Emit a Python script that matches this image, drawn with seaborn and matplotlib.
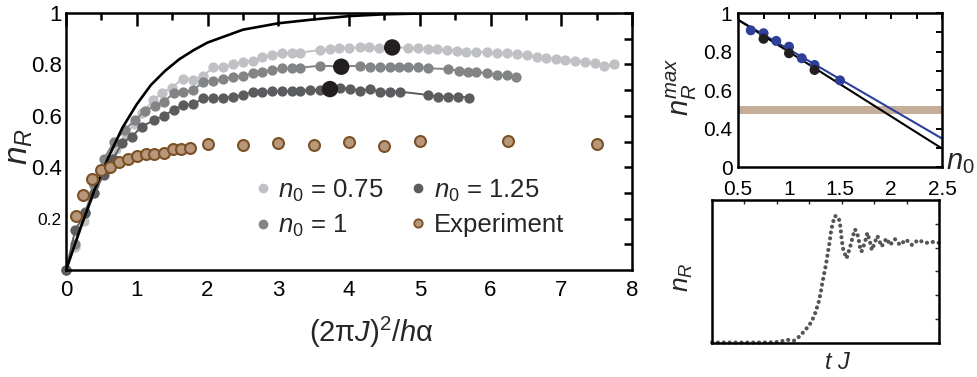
import matplotlib
matplotlib.use("Agg")
import matplotlib.pyplot as plt
from matplotlib.lines import Line2D
import numpy as np
import seaborn as sns

# ---------------- data ----------------
# mean-field curve (alpha -> 0 limit)
theory_x = [0, 0.1, 0.2, 0.3, 0.4, 0.5, 0.6, 0.8, 1.0, 1.2, 1.4, 1.6, 1.8, 2.0,
            2.5, 3.0, 3.5, 4.0, 4.5, 5.0, 5.5, 6.0, 7.0, 7.8]
theory_y = [0, 0.08, 0.16, 0.235, 0.31, 0.375, 0.44, 0.555, 0.645, 0.72, 0.775,
            0.82, 0.855, 0.885, 0.935, 0.96, 0.975, 0.988, 0.995, 0.998, 1.0,
            1.0, 1.0, 1.0]

# simulations, n0 = 0.75
light_x = [0, 0.12, 0.25, 0.4, 0.55, 0.7, 0.85, 0.97, 1.08, 1.23, 1.36, 1.5,
           1.65, 1.79, 1.94, 2.08, 2.22, 2.36, 2.5, 2.64, 2.77, 2.91, 3.05,
           3.19, 3.31, 3.59, 3.73, 3.86, 4.0, 4.15, 4.28, 4.43, 4.61, 4.84,
           4.97, 5.11, 5.25, 5.39, 5.52, 5.66, 5.80, 5.95, 6.09, 6.23, 6.37,
           6.51, 6.65, 6.78, 6.93, 7.05, 7.19, 7.34, 7.48, 7.60, 7.74]
light_y = [0, 0.09, 0.19, 0.3, 0.39, 0.47, 0.53, 0.57, 0.61, 0.66, 0.69, 0.71,
           0.745, 0.74, 0.755, 0.79, 0.79, 0.80, 0.81, 0.815, 0.83, 0.837,
           0.843, 0.846, 0.846, 0.856, 0.859, 0.863, 0.865, 0.866, 0.866,
           0.865, 0.866, 0.865, 0.863, 0.859, 0.859, 0.856, 0.853, 0.849,
           0.849, 0.847, 0.845, 0.843, 0.839, 0.835, 0.83, 0.826, 0.821,
           0.817, 0.815, 0.81, 0.804, 0.794, 0.80]

# simulations, n0 = 1
mid_x = [0, 0.13, 0.27, 0.4, 0.53, 0.68, 0.83, 0.975, 1.12, 1.26, 1.38, 1.52,
         1.66, 1.80, 1.94, 2.08, 2.22, 2.36, 2.50, 2.64, 2.77, 2.91, 3.05,
         3.19, 3.31, 3.59, 3.89, 4.16, 4.30, 4.44, 4.58, 4.71, 4.84, 4.98,
         5.12, 5.40, 5.55, 5.68, 5.80, 5.95, 6.09, 6.23, 6.36]
mid_y = [0, 0.1, 0.227, 0.33, 0.43, 0.5, 0.545, 0.584, 0.62, 0.64, 0.655,
         0.687, 0.694, 0.70, 0.733, 0.735, 0.742, 0.752, 0.755, 0.765, 0.772,
         0.778, 0.785, 0.785, 0.787, 0.795, 0.792, 0.795, 0.79, 0.789, 0.789,
         0.789, 0.791, 0.79, 0.785, 0.782, 0.776, 0.772, 0.772, 0.765, 0.759,
         0.757, 0.75]

# simulations, n0 = 1.25
dark_x = [0, 0.13, 0.27, 0.4, 0.53, 0.66, 0.79, 0.93, 1.07, 1.25, 1.38, 1.52,
          1.66, 1.80, 1.94, 2.08, 2.22, 2.36, 2.50, 2.64, 2.77, 2.91, 3.05,
          3.19, 3.31, 3.45, 3.59, 3.73, 3.87, 4.01, 4.16, 4.30, 4.44, 4.58,
          4.72, 5.12, 5.26, 5.40, 5.54, 5.69]
dark_y = [0, 0.156, 0.22, 0.3, 0.37, 0.43, 0.493, 0.519, 0.558, 0.584, 0.60,
          0.623, 0.642, 0.645, 0.668, 0.668, 0.668, 0.674, 0.681, 0.694,
          0.694, 0.695, 0.695, 0.697, 0.698, 0.70, 0.70, 0.704, 0.707, 0.706,
          0.698, 0.703, 0.694, 0.694, 0.694, 0.681, 0.675, 0.675, 0.675, 0.671]

# maxima of the simulated curves
peak_n0 = [0.75, 1.0, 1.25]
peak_x = [4.61, 3.89, 3.73]
peak_y = [0.866, 0.791, 0.704]

# experiment
exp_x = [0.14, 0.24, 0.37, 0.49, 0.62, 0.75, 0.88, 1.0, 1.13, 1.25, 1.38,
         1.51, 1.63, 1.75, 2.0, 2.5, 3.0, 3.5, 4.0, 4.5, 5.0, 6.25, 7.5]
exp_y = [0.21, 0.29, 0.353, 0.39, 0.40, 0.42, 0.432, 0.445, 0.45, 0.45, 0.454,
         0.47, 0.47, 0.476, 0.49, 0.486, 0.493, 0.486, 0.50, 0.484, 0.503,
         0.503, 0.49]

# inset: maximum vs n0
blue_n0 = [0.625, 0.75, 0.875, 1.0, 1.125, 1.25, 1.5]
blue_max = [0.91, 0.895, 0.855, 0.825, 0.765, 0.73, 0.65]
fit_n0 = [0.5, 2.5]
blue_fit = [0.965, 0.348]
black_fit = [0.965, 0.296]
exp_band = [0.475, 0.517]

# inset: time trace
trace_t = [0, 0.5, 1.02, 1.5, 1.94, 2.16, 2.34, 2.53, 2.71, 2.92, 3.07, 3.18,
           3.28, 3.35, 3.40, 3.46, 3.52, 3.57, 3.62, 3.66, 3.72, 3.79, 3.89,
           3.94, 3.97, 4.00, 4.05, 4.15, 4.26, 4.34, 4.41, 4.51, 4.56, 4.61,
           4.72, 4.79, 4.87, 4.93, 5.03, 5.10, 5.23, 5.38, 5.49, 5.64, 5.80,
           5.98, 6.17, 6.35, 6.60, 6.81, 7.0]
trace_n = [0.02, 0.02, 0.02, 0.02, 0.03, 0.08, 0.13, 0.10, 0.29, 0.62, 0.89,
           1.25, 1.67, 2.09, 2.51, 2.92, 3.34, 3.76, 4.18, 4.60, 5.02, 5.33,
           5.29, 5.08, 4.74, 4.32, 3.90, 3.55, 4.04, 4.46, 4.77, 4.46, 4.04,
           3.83, 4.25, 4.62, 4.25, 3.90, 4.25, 4.49, 4.05, 4.39, 4.11, 4.36,
           4.11, 4.34, 4.11, 4.32, 4.20, 4.24, 4.20]

# ---------------- style ----------------
sns.set_theme(style="white")
plt.rcParams["font.family"] = ["Liberation Sans", "DejaVu Sans"]
plt.rcParams["mathtext.fontset"] = "custom"
plt.rcParams["mathtext.rm"] = "Liberation Sans"
plt.rcParams["mathtext.it"] = "Liberation Sans:italic"
plt.rcParams["mathtext.bf"] = "Liberation Sans:bold"
plt.rcParams["axes.linewidth"] = 1.8
plt.rcParams["axes.edgecolor"] = "black"

c_light = "#c0c1c4"
c_mid = "#838486"
c_dark = "#5b5c5e"
c_peak = "#231f20"
c_exp_face = "#b9977a"
c_exp_edge = "#7b5227"
c_blue = "#2e3f99"
c_band = "#c4ad99"

fig = plt.figure(figsize=(9.77, 3.77), dpi=100)
ax = fig.add_axes([0.0676, 0.2838, 0.5793, 0.6817])
ax_max = fig.add_axes([0.7554, 0.557, 0.2088, 0.4085])
ax_t = fig.add_axes([0.7288, 0.0902, 0.2323, 0.3793])

# ---------------- main panel ----------------
for xs, ys, col in [(light_x, light_y, c_light), (mid_x, mid_y, c_mid),
                    (dark_x, dark_y, c_dark)]:
    sns.lineplot(x=xs, y=ys, ax=ax, color=col, lw=1.4, marker="o",
                 markersize=7.4, markeredgewidth=0, mec=col,
                 estimator=None, sort=False, zorder=2, clip_on=False)

sns.lineplot(x=theory_x, y=theory_y, ax=ax, color="black", lw=1.9,
             estimator=None, sort=False, zorder=3)

sns.scatterplot(x=peak_x, y=peak_y, ax=ax, s=140, color=c_peak,
                edgecolor="none", zorder=4)

sns.scatterplot(x=exp_x, y=exp_y, ax=ax, s=62, color=c_exp_face,
                edgecolor=c_exp_edge, linewidth=1.5, zorder=5)

ax.set_xlim(0, 8)
ax.set_ylim(0, 1)
ax.set_xticks(range(0, 9))
ax.set_xticklabels([str(i) for i in range(0, 9)])
ax.set_xticks(np.arange(0.5, 8, 1), minor=True)
ax.set_yticks([0.2, 0.4, 0.6, 0.8, 1.0])
ax.set_yticklabels(["0.2", "0.4", "0.6", "0.8", "1"])
ax.set_yticks(np.arange(0.1, 1.0, 0.2), minor=True)
ax.tick_params(which="both", direction="in", top=True, right=True,
               width=1.8, colors="black", labelsize=16)
ax.tick_params(axis="x", which="major", length=9, pad=7)
ax.tick_params(axis="x", which="minor", length=5)
ax.tick_params(axis="y", which="both", length=6, pad=3)
ax.get_yticklabels()[0].set_fontsize(12.5)

ax.set_xlabel(r"(2π$J$)$^{2}$/$h$α", fontsize=21)
ax.xaxis.set_label_coords(0.54, -0.175)
ax.set_ylabel(r"$n_R$", fontsize=24)
ax.yaxis.set_label_coords(-0.055, 0.48)

handles = [
    Line2D([], [], ls="none", marker="o", ms=6, color=c_light, mec=c_light),
    Line2D([], [], ls="none", marker="o", ms=6, color=c_mid, mec=c_mid),
    Line2D([], [], ls="none", marker="o", ms=6, color=c_dark, mec=c_dark),
    Line2D([], [], ls="none", marker="o", ms=6, color=c_exp_face,
           mec=c_exp_edge, mew=1.3),
]
labels = [r"$n_0$ = 0.75", r"$n_0$ = 1", r"$n_0$ = 1.25", "Experiment"]
ax.legend(handles, labels, loc="upper left", bbox_to_anchor=(0.316, 0.40),
          ncol=2, frameon=False, fontsize=18.5, handlelength=0.6,
          handletextpad=0.3, columnspacing=1.05, labelspacing=0.35,
          borderaxespad=0)

# ---------------- inset: maximum vs n0 ----------------
ax_max.axhspan(exp_band[0], exp_band[1], color=c_band, lw=0, zorder=1)
sns.lineplot(x=fit_n0, y=blue_fit, ax=ax_max, color=c_blue, lw=1.5,
             estimator=None, zorder=2)
sns.lineplot(x=fit_n0, y=black_fit, ax=ax_max, color="black", lw=1.5,
             estimator=None, zorder=2)
sns.scatterplot(x=blue_n0, y=blue_max, ax=ax_max, s=52, color=c_blue,
                edgecolor="none", zorder=3)
sns.scatterplot(x=peak_n0, y=peak_y, ax=ax_max, s=52, color=c_peak,
                edgecolor="none", zorder=4)
ax_max.set_xlim(0.5, 2.5)
ax_max.set_ylim(0.2, 1.0)
ax_max.set_xticks([0.5, 1.0, 1.5, 2.0, 2.5])
ax_max.set_xticklabels(["0.5", "1", "1.5", "2", "2.5"])
ax_max.set_xticks([0.75, 1.25, 1.75, 2.25], minor=True)
ax_max.set_yticks([0.2, 0.4, 0.6, 0.8, 1.0])
ax_max.set_yticklabels(["0", "0.4", "0.6", "0.8", "1"])
ax_max.set_yticks([0.3, 0.5, 0.7, 0.9], minor=True)
ax_max.tick_params(which="both", direction="in", top=True, right=True,
                   width=1.4, length=4, colors="black", labelsize=15)
ax_max.tick_params(axis="x", pad=9)
ax_max.tick_params(axis="y", pad=4)
ax_max.set_ylabel(r"$n_R^{max}$", fontsize=21)
ax_max.yaxis.set_label_coords(-0.19, 0.52)
ax_max.text(1.02, 0.03, r"$n_0$", transform=ax_max.transAxes, fontsize=21,
            ha="left", va="center")

# ---------------- inset: time trace ----------------
sns.lineplot(x=trace_t, y=trace_n, ax=ax_t, color="#555555", lw=3.0,
             linestyle=(0, (0.01, 1.4)), dash_capstyle="round",
             estimator=None, sort=False, clip_on=False)
ax_t.set_xlim(0, 7)
ax_t.set_ylim(0, 6)
ax_t.set_xticks(range(1, 7))
ax_t.set_yticks(range(1, 6))
ax_t.tick_params(which="both", direction="in", top=True, right=True,
                 width=1.0, length=3, labelbottom=False, labelleft=False)
ax_t.set_ylabel(r"$n_R$", fontsize=19)
ax_t.yaxis.set_label_coords(-0.075, 0.46)
ax_t.set_xlabel(r"$t\ J$", fontsize=17)
ax_t.xaxis.set_label_coords(0.555, -0.06)

fig.savefig("out.png", dpi=100)
